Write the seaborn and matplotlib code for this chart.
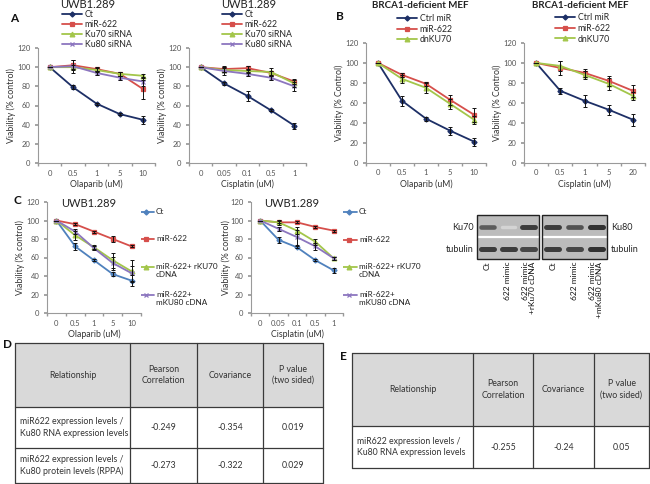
import numpy as np
import matplotlib
matplotlib.use("Agg")
import matplotlib.pyplot as plt
from matplotlib.patches import Rectangle
import seaborn as sns

W, H = 650, 484

# ---- data ----
olaparib_doses = ["0", "0.5", "1", "5", "10"]
cisplatin_doses_a = ["0", "0.05", "0.1", "0.5", "1"]
cisplatin_doses_b = ["0", "0.5", "1", "5", "20"]

a_labels = ["Ct", "miR-622", "Ku70 siRNA", "Ku80 siRNA"]
a1_ct = [100, 79, 62, 51, 45]
a1_mir = [100, 102, 98, 93, 77]
a1_ku70 = [100, 100, 97, 93, 91]
a1_ku80 = [100, 101, 94, 89, 85]
a1_ct_err = [0, 2, 1, 1, 4]
a1_mir_err = [0, 5, 2, 2, 10]
a1_ku70_err = [0, 2, 2, 2, 2]
a1_ku80_err = [0, 7, 2, 2, 5]

a2_ct = [100, 83, 70, 55, 39]
a2_mir = [100, 98, 99, 94, 85]
a2_ku70 = [100, 97, 96, 95, 83]
a2_ku80 = [100, 96, 93, 89, 80]
a2_ct_err = [0, 2, 5, 1, 3]
a2_mir_err = [0, 3, 2, 2, 3]
a2_ku70_err = [0, 2, 2, 4, 4]
a2_ku80_err = [0, 4, 2, 2, 5]

b_labels = ["Ctrl miR", "miR-622", "dnKU70"]
b1_ctrl = [100, 62, 44, 32, 21]
b1_mir = [100, 88, 79, 63, 48]
b1_dn = [100, 84, 75, 59, 43]
b1_ctrl_err = [0, 5, 2, 4, 4]
b1_mir_err = [0, 2, 2, 5, 7]
b1_dn_err = [0, 4, 5, 5, 4]

b2_ctrl = [100, 72, 62, 53, 43]
b2_mir = [100, 95, 90, 82, 72]
b2_dn = [100, 97, 88, 79, 67]
b2_ctrl_err = [0, 3, 6, 5, 6]
b2_mir_err = [0, 7, 4, 5, 6]
b2_dn_err = [0, 5, 4, 6, 4]

c_labels = ["Ct", "miR-622", "miR-622+ rKU70\ncDNA", "miR-622+\nmKU80 cDNA"]
c1_ct = [100, 72, 57, 42, 35]
c1_mir = [100, 96, 88, 80, 72]
c1_rku70 = [100, 84, 71, 57, 45]
c1_mku80 = [100, 88, 70, 54, 43]
c1_ct_err = [0, 4, 1, 2, 6]
c1_mir_err = [0, 1, 1, 3, 1]
c1_rku70_err = [0, 5, 2, 8, 12]
c1_mku80_err = [0, 3, 2, 7, 8]

c2_ct = [100, 79, 71, 57, 46]
c2_mir = [100, 98, 98, 93, 89]
c2_rku70 = [100, 98, 89, 77, 59]
c2_mku80 = [100, 91, 82, 72, 59]
c2_ct_err = [0, 3, 1, 1, 3]
c2_mir_err = [0, 1, 1, 1, 1]
c2_rku70_err = [0, 3, 4, 3, 2]
c2_mku80_err = [0, 2, 8, 4, 2]

blot_lanes_ku70 = ["Ct", "622 mimic", "622 mimic\n+rKu70 cDNA"]
blot_lanes_ku80 = ["Ct", "622 mimic", "622 mimic\n+mKu80 cDNA"]
ku70_band = [0.75, 0.2, 0.9]
ku70_tub_band = [0.9, 0.9, 0.85]
ku80_band = [0.9, 0.8, 0.95]
ku80_tub_band = [0.9, 0.85, 0.95]

d_header = ["Relationship", "Pearson\nCorrelation", "Covariance", "P value\n(two sided)"]
d_relationship = ["miR622 expression levels /\nKu80 RNA expression levels",
                  "miR622 expression levels /\nKu80 protein levels (RPPA)"]
d_pearson = ["-0.249", "-0.273"]
d_covariance = ["-0.354", "-0.322"]
d_pvalue = ["0.019", "0.029"]

e_header = ["Relationship", "Pearson\nCorrelation", "Covariance", "P value\n(two sided)"]
e_relationship = ["miR622 expression levels /\nKu80 RNA expression levels"]
e_pearson = ["-0.255"]
e_covariance = ["-0.24"]
e_pvalue = ["0.05"]

# ---- style ----
sns.set_theme(style="white")
plt.rcParams['font.family'] = ['Lato', 'DejaVu Sans']

navy, red, green, purple = "#1d2f66", "#d64f4b", "#a3c64a", "#8c76bf"
steel = "#4f81bd"
markers4 = ["D", "s", "^", "x"]

fig = plt.figure(figsize=(6.5, 4.84), dpi=100)


def px_ax(l, t, r, b):
    return fig.add_axes([l / W, 1 - b / H, (r - l) / W, (b - t) / H])


def ftext(x, y, s, **kw):
    fig.text(x / W, 1 - y / H, s, **kw)


overlay = fig.add_axes([0, 0, 1, 1])
overlay.set_xlim(0, W)
overlay.set_ylim(H, 0)
overlay.axis("off")


def marker_size(m):
    return 2.6 if m == "D" else 3.4


def curve_panel(box, doses, labels, vals, errs, colors, ylabel, xlabel, leg_xy=None, leg_space=0.12):
    ax = px_ax(*box)
    pos = np.arange(len(doses))
    for lab, v, e, c, m in zip(labels, vals, errs, colors, markers4):
        sns.lineplot(x=pos, y=v, ax=ax, color=c, marker=m, markersize=marker_size(m),
                     markeredgecolor=c, markeredgewidth=0.9, linewidth=1.3, label=lab)
        ax.errorbar(pos, v, yerr=e, fmt="none", ecolor="#111111", elinewidth=0.7,
                    capsize=1.6, capthick=0.7, zorder=4)
    ax.set_xlim(-0.5, len(doses) - 0.5)
    ax.set_ylim(0, 120)
    ax.set_yticks(range(0, 121, 20))
    ax.set_xticks(pos)
    ax.set_xticklabels(doses)
    ax.set_xticks(np.arange(-0.5, len(doses)), minor=True)
    ax.tick_params(axis="x", which="major", length=0, labelsize=5.5, labelcolor="#555555", pad=5)
    ax.tick_params(axis="x", which="minor", length=2.5, color="#999999", direction="out", bottom=True)
    ax.tick_params(axis="y", length=2.5, color="#999999", direction="out", left=True,
                   labelsize=5.5, labelcolor="#555555", pad=3)
    sns.despine(ax=ax)
    for s in ("left", "bottom"):
        ax.spines[s].set_color("#9a9a9a")
        ax.spines[s].set_linewidth(0.8)
    ax.set_ylabel(ylabel, fontsize=6.3, color="#333333", labelpad=0.5)
    ax.set_xlabel(xlabel, fontsize=6.3, color="#333333", labelpad=2)
    if leg_xy is None:
        ax.legend().remove()
    else:
        h, l = ax.get_legend_handles_labels()
        ax.legend(h, l, loc="upper left", bbox_to_anchor=(leg_xy[0] / W, 1 - leg_xy[1] / H),
                  bbox_transform=fig.transFigure, frameon=False, fontsize=6.3,
                  handlelength=2.3, handletextpad=0.3, borderpad=0, borderaxespad=0,
                  labelspacing=leg_space)
    return ax


def manual_legend(x, ys, labels, colors):
    # legend entries of panel C sit far apart, next to the curves
    for y, lab, c, m in zip(ys, labels, colors, markers4):
        overlay.plot([x, x + 17], [y, y], color=c, lw=1.3, zorder=3)
        overlay.plot([x + 8.5], [y], marker=m, color=c, markeredgecolor=c,
                     markersize=marker_size(m), markeredgewidth=0.9, zorder=3)
        overlay.text(x + 19, y - 4.3, lab, ha="left", va="top", fontsize=5.9,
                     color="#222222", linespacing=1.25)


colors_ab4 = [navy, red, green, purple]
colors_c = [steel, red, green, purple]

curve_panel((38, 48, 155, 163), olaparib_doses, a_labels,
            [a1_ct, a1_mir, a1_ku70, a1_ku80],
            [a1_ct_err, a1_mir_err, a1_ku70_err, a1_ku80_err],
            colors_ab4, "Viability (% control)", "Olaparib (uM)", (62, 10), 0.1)
curve_panel((189, 48, 306, 163), cisplatin_doses_a, a_labels,
            [a2_ct, a2_mir, a2_ku70, a2_ku80],
            [a2_ct_err, a2_mir_err, a2_ku70_err, a2_ku80_err],
            colors_ab4, "Viability (% control)", "Cisplatin (uM)", (222, 10), 0.1)
curve_panel((366, 43, 486, 162.5), olaparib_doses, b_labels,
            [b1_ctrl, b1_mir, b1_dn], [b1_ctrl_err, b1_mir_err, b1_dn_err],
            colors_ab4, "Viability (% Control)", "Olaparib (uM)", (397, 14), 0.2)
curve_panel((524, 43, 645, 162.5), cisplatin_doses_b, b_labels,
            [b2_ctrl, b2_mir, b2_dn], [b2_ctrl_err, b2_mir_err, b2_dn_err],
            colors_ab4, "Viability (% Control)", "Cisplatin (uM)", (555, 13), 0.2)
curve_panel((47, 202, 141, 313), olaparib_doses, c_labels,
            [c1_ct, c1_mir, c1_rku70, c1_mku80],
            [c1_ct_err, c1_mir_err, c1_rku70_err, c1_mku80_err],
            colors_c, "Viability (% control)", "Olaparib (uM)")
ax_c2 = curve_panel((251, 202, 343, 313), cisplatin_doses_a, c_labels,
                    [c2_ct, c2_mir, c2_rku70, c2_mku80],
                    [c2_ct_err, c2_mir_err, c2_rku70_err, c2_mku80_err],
                    colors_c, "Viability (% control)", "Cisplatin (uM)")
ax_c2.yaxis.labelpad = -0.5
manual_legend(137, [212, 239, 267, 295], c_labels, colors_c)
manual_legend(340, [212, 240, 267, 295], c_labels, colors_c)

# titles and panel letters
for x, y, s in [(88, 5, "UWB1.289"), (249, 5, "UWB1.289"),
                (420, 6, "BRCA1-deficient MEF"), (580, 6, "BRCA1-deficient MEF"),
                (89, 204, "UWB1.289"), (292, 204, "UWB1.289")]:
    ftext(x, y, s, ha="center", va="center", fontsize=8 if "UWB" in s else 7,
          color="#222222", fontweight="normal" if "UWB" in s else "bold")
for x, y, s in [(10, 19, "A"), (336, 16, "B"), (14, 201, "C"), (3, 345, "D"), (340, 357, "E")]:
    ftext(x, y, s, ha="left", va="center", fontsize=8.5, fontweight="bold", color="#111111")


# western blot
def draw_blot(l, r, top, bot, bands, tub, lanes, side_label, side_left):
    overlay.add_patch(Rectangle((l, top), r - l, bot - top, facecolor="#bcbcbc",
                                edgecolor="none", zorder=1))
    mid = (top + bot) / 2
    overlay.plot([l, r], [mid, mid], color="white", lw=1.6, zorder=3)
    lane_w = (r - l) / len(lanes)
    for i, (bd, tb) in enumerate(zip(bands, tub)):
        cx = l + (i + 0.5) * lane_w
        overlay.plot([cx - 6.5, cx + 6.5], [top + 12, top + 12], lw=2.2 + 1.5 * bd,
                     color=str(1 - 0.85 * bd), solid_capstyle="round", zorder=2)
        overlay.plot([cx - 6.5, cx + 6.5], [bot - 10, bot - 10], lw=3.6,
                     color=str(1 - 0.85 * tb), solid_capstyle="round", zorder=2)
        overlay.text(cx, bot + 3, lanes[i], rotation=90, ha="center", va="top",
                     multialignment="right", fontsize=6, color="#111111", linespacing=0.95)
    overlay.add_patch(Rectangle((l, top), r - l, bot - top, facecolor="none",
                                edgecolor="#222222", lw=1, zorder=4))
    if side_left:
        overlay.text(l - 3, top + 12, side_label, ha="right", va="center", fontsize=6.5)
        overlay.text(l - 3, bot - 10, "tubulin", ha="right", va="center", fontsize=6.5)
    else:
        overlay.text(r + 4, top + 12, side_label, ha="left", va="center", fontsize=6.5)
        overlay.text(r + 4, bot - 10, "tubulin", ha="left", va="center", fontsize=6.5)


draw_blot(477, 539, 215, 259, ku70_band, ku70_tub_band, blot_lanes_ku70, "Ku70", True)
draw_blot(542, 607, 215, 259, ku80_band, ku80_tub_band, blot_lanes_ku80, "Ku80", False)


# tables
def draw_table(cols, rows, header, rel, pear, cov, pval):
    overlay.add_patch(Rectangle((cols[0], rows[0]), cols[-1] - cols[0], rows[1] - rows[0],
                                facecolor="#d9d9d9", edgecolor="none", zorder=1))
    for x in cols:
        overlay.plot([x, x], [rows[0], rows[-1]], color="#3a3a3a", lw=0.9, zorder=2)
    for y in rows:
        overlay.plot([cols[0], cols[-1]], [y, y], color="#3a3a3a", lw=0.9, zorder=2)
    hy = (rows[0] + rows[1]) / 2
    for j, h in enumerate(header):
        overlay.text((cols[j] + cols[j + 1]) / 2, hy, h, ha="center", va="center",
                     fontsize=6.3, color="#333333", linespacing=1.3)
    for i in range(len(rel)):
        ry = (rows[i + 1] + rows[i + 2]) / 2
        overlay.text(cols[0] + 5, ry, rel[i], ha="left", va="center", fontsize=6.3,
                     color="#333333", linespacing=1.3)
        for j, v in enumerate([pear[i], cov[i], pval[i]]):
            overlay.text((cols[j + 1] + cols[j + 2]) / 2, ry, v, ha="center", va="center",
                         fontsize=6.3, color="#333333")


draw_table([15, 130, 197, 263, 323], [343, 407, 448, 483], d_header,
           d_relationship, d_pearson, d_covariance, d_pvalue)
draw_table([352, 473, 533, 594, 649], [353, 426, 468], e_header,
           e_relationship, e_pearson, e_covariance, e_pvalue)

fig.savefig("out.png", dpi=100)
